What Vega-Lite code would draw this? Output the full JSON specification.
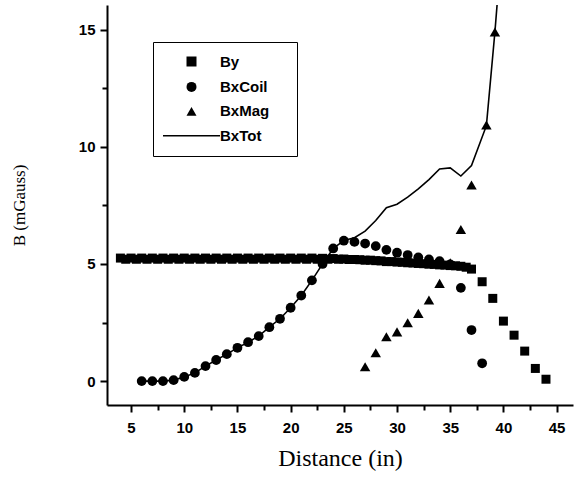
{
  "$schema": "https://vega.github.io/schema/vega-lite/v6.json",
  "autosize": "none",
  "padding": {"left": 107, "top": 5, "right": 4, "bottom": 74},
  "width": 466,
  "height": 400,
  "background": "white",
  "config": {
    "view": {"stroke": null},
    "axis": {
      "grid": false,
      "domainColor": "black",
      "domainWidth": 2,
      "tickColor": "black",
      "tickWidth": 2,
      "labelColor": "black",
      "titleColor": "black",
      "labelFont": "Liberation Sans",
      "labelFontWeight": "bold",
      "labelFontSize": 15,
      "titleFont": "Liberation Serif",
      "titleFontWeight": "normal"
    }
  },
  "layer": [
    {
      "data": {"values": [
        {"x": 6, "y": 0}, {"x": 7, "y": 0}, {"x": 8, "y": 0}, {"x": 9, "y": 0.04},
        {"x": 10, "y": 0.18}, {"x": 11, "y": 0.35}, {"x": 12, "y": 0.64}, {"x": 13, "y": 0.9},
        {"x": 14, "y": 1.15}, {"x": 15, "y": 1.42}, {"x": 16, "y": 1.66}, {"x": 17, "y": 1.92},
        {"x": 18, "y": 2.3}, {"x": 19, "y": 2.66}, {"x": 20, "y": 3.13}, {"x": 21, "y": 3.65},
        {"x": 22, "y": 4.3}, {"x": 23, "y": 5.0}, {"x": 24, "y": 5.66}, {"x": 25, "y": 6.0},
        {"x": 26, "y": 6.12}, {"x": 27, "y": 6.4}, {"x": 28, "y": 6.85}, {"x": 29, "y": 7.4},
        {"x": 30, "y": 7.55}, {"x": 31, "y": 7.85}, {"x": 32, "y": 8.2}, {"x": 33, "y": 8.6},
        {"x": 34, "y": 9.05}, {"x": 35, "y": 9.1}, {"x": 36, "y": 8.75}, {"x": 37, "y": 9.2},
        {"x": 38.4, "y": 10.9}, {"x": 39.2, "y": 14.9}, {"x": 39.5, "y": 16.6}
      ]},
      "mark": {"type": "line", "color": "black", "strokeWidth": 1.6, "clip": true},
      "encoding": {
        "x": {
          "field": "x", "type": "quantitative",
          "scale": {"domain": [2.74, 46.54], "nice": false, "zero": false},
          "axis": {
            "orient": "bottom",
            "values": [5, 10, 15, 20, 25, 30, 35, 40, 45],
            "format": "d",
            "tickSize": 7,
            "labelPadding": 8,
            "title": "Distance (in)",
            "titleFontSize": 24,
            "titlePadding": 11
          }
        },
        "y": {
          "field": "y", "type": "quantitative",
          "scale": {"domain": [-1.02, 16.05], "nice": false, "zero": false},
          "axis": {
            "orient": "left",
            "values": [0, 5, 10, 15],
            "format": "d",
            "tickSize": 7,
            "labelPadding": 5,
            "title": "B (mGauss)",
            "titleFontSize": 17,
            "titlePadding": 50
          }
        }
      }
    },
    {
      "data": {"values": [
        {"s": "By", "x": 4, "y": 5.25}, {"s": "By", "x": 4.5, "y": 5.2}, {"s": "By", "x": 5, "y": 5.25}, {"s": "By", "x": 5.5, "y": 5.2},
        {"s": "By", "x": 6, "y": 5.25}, {"s": "By", "x": 6.5, "y": 5.2}, {"s": "By", "x": 7, "y": 5.25}, {"s": "By", "x": 7.5, "y": 5.2},
        {"s": "By", "x": 8, "y": 5.25}, {"s": "By", "x": 8.5, "y": 5.2}, {"s": "By", "x": 9, "y": 5.25}, {"s": "By", "x": 9.5, "y": 5.2},
        {"s": "By", "x": 10, "y": 5.25}, {"s": "By", "x": 10.5, "y": 5.2}, {"s": "By", "x": 11, "y": 5.25}, {"s": "By", "x": 11.5, "y": 5.2},
        {"s": "By", "x": 12, "y": 5.25}, {"s": "By", "x": 12.5, "y": 5.2}, {"s": "By", "x": 13, "y": 5.25}, {"s": "By", "x": 13.5, "y": 5.2},
        {"s": "By", "x": 14, "y": 5.25}, {"s": "By", "x": 14.5, "y": 5.2}, {"s": "By", "x": 15, "y": 5.25}, {"s": "By", "x": 15.5, "y": 5.2},
        {"s": "By", "x": 16, "y": 5.25}, {"s": "By", "x": 16.5, "y": 5.2}, {"s": "By", "x": 17, "y": 5.25}, {"s": "By", "x": 17.5, "y": 5.2},
        {"s": "By", "x": 18, "y": 5.25}, {"s": "By", "x": 18.5, "y": 5.2}, {"s": "By", "x": 19, "y": 5.25}, {"s": "By", "x": 19.5, "y": 5.2},
        {"s": "By", "x": 20, "y": 5.25}, {"s": "By", "x": 20.5, "y": 5.2}, {"s": "By", "x": 21, "y": 5.25}, {"s": "By", "x": 21.5, "y": 5.2},
        {"s": "By", "x": 22, "y": 5.25}, {"s": "By", "x": 22.5, "y": 5.2}, {"s": "By", "x": 23, "y": 5.24}, {"s": "By", "x": 23.5, "y": 5.2},
        {"s": "By", "x": 24, "y": 5.23}, {"s": "By", "x": 24.5, "y": 5.2}, {"s": "By", "x": 25, "y": 5.21}, {"s": "By", "x": 25.5, "y": 5.19},
        {"s": "By", "x": 26, "y": 5.19}, {"s": "By", "x": 26.5, "y": 5.18}, {"s": "By", "x": 27, "y": 5.16}, {"s": "By", "x": 27.5, "y": 5.16},
        {"s": "By", "x": 28, "y": 5.14}, {"s": "By", "x": 28.5, "y": 5.13}, {"s": "By", "x": 29, "y": 5.1}, {"s": "By", "x": 29.5, "y": 5.1},
        {"s": "By", "x": 30, "y": 5.08}, {"s": "By", "x": 30.5, "y": 5.07}, {"s": "By", "x": 31, "y": 5.05}, {"s": "By", "x": 31.5, "y": 5.04},
        {"s": "By", "x": 32, "y": 5.02}, {"s": "By", "x": 32.5, "y": 5.01}, {"s": "By", "x": 33, "y": 4.99}, {"s": "By", "x": 33.5, "y": 4.98},
        {"s": "By", "x": 34, "y": 4.96}, {"s": "By", "x": 34.5, "y": 4.95}, {"s": "By", "x": 35, "y": 4.93}, {"s": "By", "x": 35.5, "y": 4.92},
        {"s": "By", "x": 36, "y": 4.9}, {"s": "By", "x": 36.5, "y": 4.86}, {"s": "By", "x": 37, "y": 4.78}, {"s": "By", "x": 38, "y": 4.24},
        {"s": "By", "x": 39, "y": 3.53}, {"s": "By", "x": 40, "y": 2.56}, {"s": "By", "x": 41, "y": 1.96}, {"s": "By", "x": 42, "y": 1.28},
        {"s": "By", "x": 43, "y": 0.54}, {"s": "By", "x": 44, "y": 0.08},
        {"s": "BxCoil", "x": 6, "y": 0}, {"s": "BxCoil", "x": 7, "y": 0}, {"s": "BxCoil", "x": 8, "y": 0}, {"s": "BxCoil", "x": 9, "y": 0.04},
        {"s": "BxCoil", "x": 10, "y": 0.18}, {"s": "BxCoil", "x": 11, "y": 0.35}, {"s": "BxCoil", "x": 12, "y": 0.64}, {"s": "BxCoil", "x": 13, "y": 0.9},
        {"s": "BxCoil", "x": 14, "y": 1.15}, {"s": "BxCoil", "x": 15, "y": 1.42}, {"s": "BxCoil", "x": 16, "y": 1.66}, {"s": "BxCoil", "x": 17, "y": 1.92},
        {"s": "BxCoil", "x": 18, "y": 2.3}, {"s": "BxCoil", "x": 19, "y": 2.66}, {"s": "BxCoil", "x": 20, "y": 3.13}, {"s": "BxCoil", "x": 21, "y": 3.65},
        {"s": "BxCoil", "x": 22, "y": 4.3}, {"s": "BxCoil", "x": 23, "y": 5.0}, {"s": "BxCoil", "x": 24, "y": 5.66}, {"s": "BxCoil", "x": 25, "y": 5.99},
        {"s": "BxCoil", "x": 26, "y": 5.94}, {"s": "BxCoil", "x": 27, "y": 5.87}, {"s": "BxCoil", "x": 28, "y": 5.76}, {"s": "BxCoil", "x": 29, "y": 5.6},
        {"s": "BxCoil", "x": 30, "y": 5.48}, {"s": "BxCoil", "x": 31, "y": 5.38}, {"s": "BxCoil", "x": 32, "y": 5.28}, {"s": "BxCoil", "x": 33, "y": 5.19},
        {"s": "BxCoil", "x": 34, "y": 5.12}, {"s": "BxCoil", "x": 35, "y": 4.98}, {"s": "BxCoil", "x": 36, "y": 3.98}, {"s": "BxCoil", "x": 37, "y": 2.18},
        {"s": "BxCoil", "x": 38, "y": 0.76},
        {"s": "BxMag", "x": 27, "y": 0.61}, {"s": "BxMag", "x": 28, "y": 1.21}, {"s": "BxMag", "x": 29, "y": 1.89}, {"s": "BxMag", "x": 30, "y": 2.1},
        {"s": "BxMag", "x": 31, "y": 2.49}, {"s": "BxMag", "x": 32, "y": 2.89}, {"s": "BxMag", "x": 33, "y": 3.46}, {"s": "BxMag", "x": 34, "y": 4.17},
        {"s": "BxMag", "x": 35, "y": 5.05}, {"s": "BxMag", "x": 36, "y": 6.47}, {"s": "BxMag", "x": 37, "y": 8.37}, {"s": "BxMag", "x": 38.4, "y": 10.93},
        {"s": "BxMag", "x": 39.2, "y": 14.9}
      ]},
      "mark": {"type": "point", "filled": true, "color": "black", "opacity": 1},
      "encoding": {
        "x": {
          "field": "x", "type": "quantitative",
          "scale": {"domain": [2.74, 46.54], "nice": false, "zero": false},
          "axis": {
            "orient": "bottom",
            "values": [7.5, 12.5, 17.5, 22.5, 27.5, 32.5, 37.5, 42.5],
            "labels": false,
            "domain": false,
            "tickSize": 5,
            "title": null
          }
        },
        "y": {
          "field": "y", "type": "quantitative",
          "scale": {"domain": [-1.02, 16.05], "nice": false, "zero": false},
          "axis": {
            "orient": "left",
            "values": [2.5, 7.5, 12.5],
            "labels": false,
            "domain": false,
            "tickSize": 5,
            "title": null
          }
        },
        "shape": {
          "field": "s", "type": "nominal",
          "scale": {"domain": ["By", "BxCoil", "BxMag", "BxTot"], "range": ["square", "circle", "triangle-up", "M-5.7,-0.15H5.7V0.15H-5.7Z"]},
          "legend": {
            "orient": "none",
            "legendX": 46,
            "legendY": 37,
            "title": "\u00a0",
            "titleOrient": "right",
            "titlePadding": 16,
            "titleFontSize": 15,
            "padding": 12,
            "strokeColor": "black",
            "symbolSize": 100,
            "symbolOffset": 19,
            "labelOffset": 21,
            "rowPadding": 8.4,
            "symbolFillColor": "black",
            "labelFont": "Liberation Sans",
            "labelFontSize": 15,
            "labelFontWeight": "bold",
            "labelColor": "black"
          }
        },
        "size": {
          "field": "s", "type": "nominal",
          "scale": {"domain": ["By", "BxCoil", "BxMag"], "range": [81, 110, 160]},
          "legend": null
        }
      }
    }
  ],
  "resolve": {"axis": {"x": "independent", "y": "independent"}}
}
